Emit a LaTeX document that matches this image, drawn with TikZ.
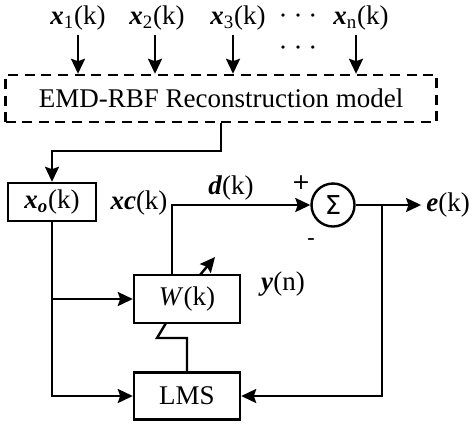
\documentclass[tikz,border=0pt]{standalone}
\usepackage{fontspec}
\setmainfont{Liberation Serif}
\newfontfamily\sansf{DejaVu Sans}
\usetikzlibrary{arrows.meta,calc}
\tikzset{
  arr/.style={-{Stealth[length=7.5pt,width=7pt,inset=1.2pt]}},
  blk/.style={draw,line width=1.2pt,minimum width=53pt,inner sep=0pt,font=\fontsize{13.5}{16}\selectfont},
  lbl/.style={inner sep=0pt,font=\fontsize{13.5}{16}\selectfont},
}
\newcommand{\bv}[1]{\textbf{\textit{#1}}}
\newcommand{\mydots}{·\hspace{3pt}·\hspace{3pt}·}
\begin{document}
\begin{tikzpicture}[x=0.5pt,y=-0.5pt,line width=1.2pt]
\useasboundingbox (0,0) rectangle (474,424);
% top labels
\node[lbl] (l1) at (78,18) {\bv{x}\textsubscript{1}(k)};
\node[lbl] (l2) at (157,18) {\bv{x}\textsubscript{2}(k)};
\node[lbl] (l3) at (238,18) {\bv{x}\textsubscript{3}(k)};
\node[lbl] (ld) at (298,19) {\mydots};
\node[lbl] (ld2) at (298,51) {\mydots};
\node[lbl] (ln) at (361,18) {\bv{x}\textsubscript{n}(k)};
% EMD box
\node[draw,dash pattern=on 5pt off 3.3pt,minimum width=215.5pt,minimum height=23.5pt,inner sep=0pt,
  font=\fontsize{13.5}{16}\selectfont] (emd) at (221,98.5) {EMD-RBF Reconstruction model};
\draw[arr] (l1.south) ++(0,4) coordinate (a1) -- (a1 |- emd.north);
\draw[arr] ($(l2.south)+(-2,4)$) coordinate (a2) -- (a2 |- emd.north);
\draw[arr] ($(l3.south)+(-5,4)$) coordinate (a3) -- (a3 |- emd.north);
\draw[arr] ($(ln.south)+(-5,4)$) coordinate (an) -- (an |- emd.north);
% blocks
\node[blk,minimum width=44pt,minimum height=19pt] (xo) at (52,202) {\bv{x}\textsubscript{\bv{o}}(k)};
\node[blk,minimum height=24pt] (w) at (187,299) {\textit{W}(k)};
\node[blk,minimum height=23.5pt] (lms) at (187,396) {LMS};
\node[draw,circle,minimum size=21.5pt,inner sep=0pt,font=\sansf\fontsize{13}{15}\selectfont] (sig) at (333,205) {Σ};
% labels
\node[lbl] (xc) at (139,203) {\bv{xc}(k)};
\node[lbl] (dk) at (231,188) {\bv{d}(k)};
\node[lbl] (ek) at (448,205) {\bv{e}(k)};
\node[lbl] (yn) at (283,284) {\bv{y}(n)};
\node[lbl,font=\sansf\fontsize{11}{13}\selectfont] (plus) at (301,183) {+};
\node[lbl,font=\sansf\fontsize{11}{13}\selectfont] (minus) at (311,242) {-};
% connectors
\draw[arr] (emd.south) -- ++(0,28) -| (xo.north);
\draw[arr] (xo.south) |- (lms.west);
\draw[arr] (xo.south |- w.west) -- (w.west);
\draw[arr] ($(w.north)+(-15,0)$) |- (sig.west);
\draw[arr] (sig.east) -- ($(ek.west)+(-4,0)$);
\coordinate (br) at (382,205);
\draw[arr] (br) |- (lms.east);
\coordinate (z1) at (157,338);
\coordinate (z2) at (166,323);
\draw (lms.north) |- (z1) -- (z2);
\coordinate (p1) at (200,275);
\coordinate (p2) at (215,257);
\draw[arr] (p1) -- (p2);
\end{tikzpicture}
\end{document}
